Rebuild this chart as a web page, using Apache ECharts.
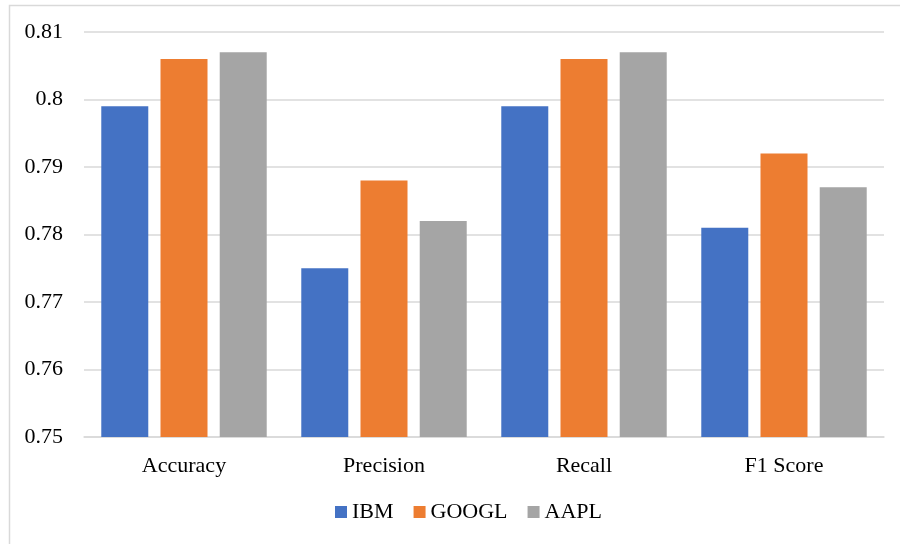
<!DOCTYPE html>
<html lang="en">
<head>
    <meta charset="UTF-8">
    <title>Metrics</title>
    <script src="https://cdn.jsdelivr.net/npm/echarts@6/dist/echarts.min.js"></script>
    <style>
        html, body { margin: 0; padding: 0; background: #fff; }
        #chart { width: 900px; height: 544px; }
    </style>
</head>
<body>
<div id="chart"></div>
<script>
    // categories and values
    const metrics = ['Accuracy', 'Precision', 'Recall', 'F1 Score'];
    const ibm = [0.799, 0.775, 0.799, 0.781];
    const googl = [0.806, 0.788, 0.806, 0.792];
    const aapl = [0.807, 0.782, 0.807, 0.787];

    const font = '"Liberation Serif", "Times New Roman", serif';
    const myChart = echarts.init(document.getElementById('chart'));

    const option = {
        backgroundColor: '#ffffff',
        textStyle: { fontFamily: font },
        graphic: [
            {
                type: 'polyline',
                shape: { points: [[9.5, 544], [9.5, 5.5], [900, 5.5]] },
                style: { stroke: '#d9d9d9', lineWidth: 1.5, fill: null }
            }
        ],
        legend: {
            bottom: 16,
            left: 330,
            itemWidth: 12,
            itemHeight: 12,
            itemGap: 20,
            icon: 'rect',
            textStyle: { fontFamily: font, fontSize: 22, color: '#000' }
        },
        grid: {
            left: 84,
            right: 16,
            top: 32,
            bottom: 107
        },
        xAxis: {
            type: 'category',
            data: metrics,
            axisLine: { lineStyle: { color: '#d9d9d9', width: 1.5 } },
            axisTick: { show: false },
            axisLabel: { fontFamily: font, fontSize: 22, color: '#000', margin: 18 }
        },
        yAxis: {
            type: 'value',
            min: 0.75,
            max: 0.81,
            interval: 0.01,
            axisLine: { show: false },
            axisTick: { show: false },
            splitLine: { lineStyle: { color: '#d9d9d9', width: 1.5 } },
            axisLabel: {
                fontFamily: font, fontSize: 22, color: '#000', margin: 21,
                formatter: function (v) { return String(parseFloat(v.toFixed(2))); }
            }
        },
        series: [
            { name: 'IBM', type: 'bar', data: ibm, barWidth: 47, barGap: '26%',
              itemStyle: { color: '#4472c4' } },
            { name: 'GOOGL', type: 'bar', data: googl, barWidth: 47, barGap: '26%',
              itemStyle: { color: '#ed7d31' } },
            { name: 'AAPL', type: 'bar', data: aapl, barWidth: 47, barGap: '26%',
              itemStyle: { color: '#a5a5a5' } }
        ]
    };

    myChart.setOption(option);
</script>
</body>
</html>
